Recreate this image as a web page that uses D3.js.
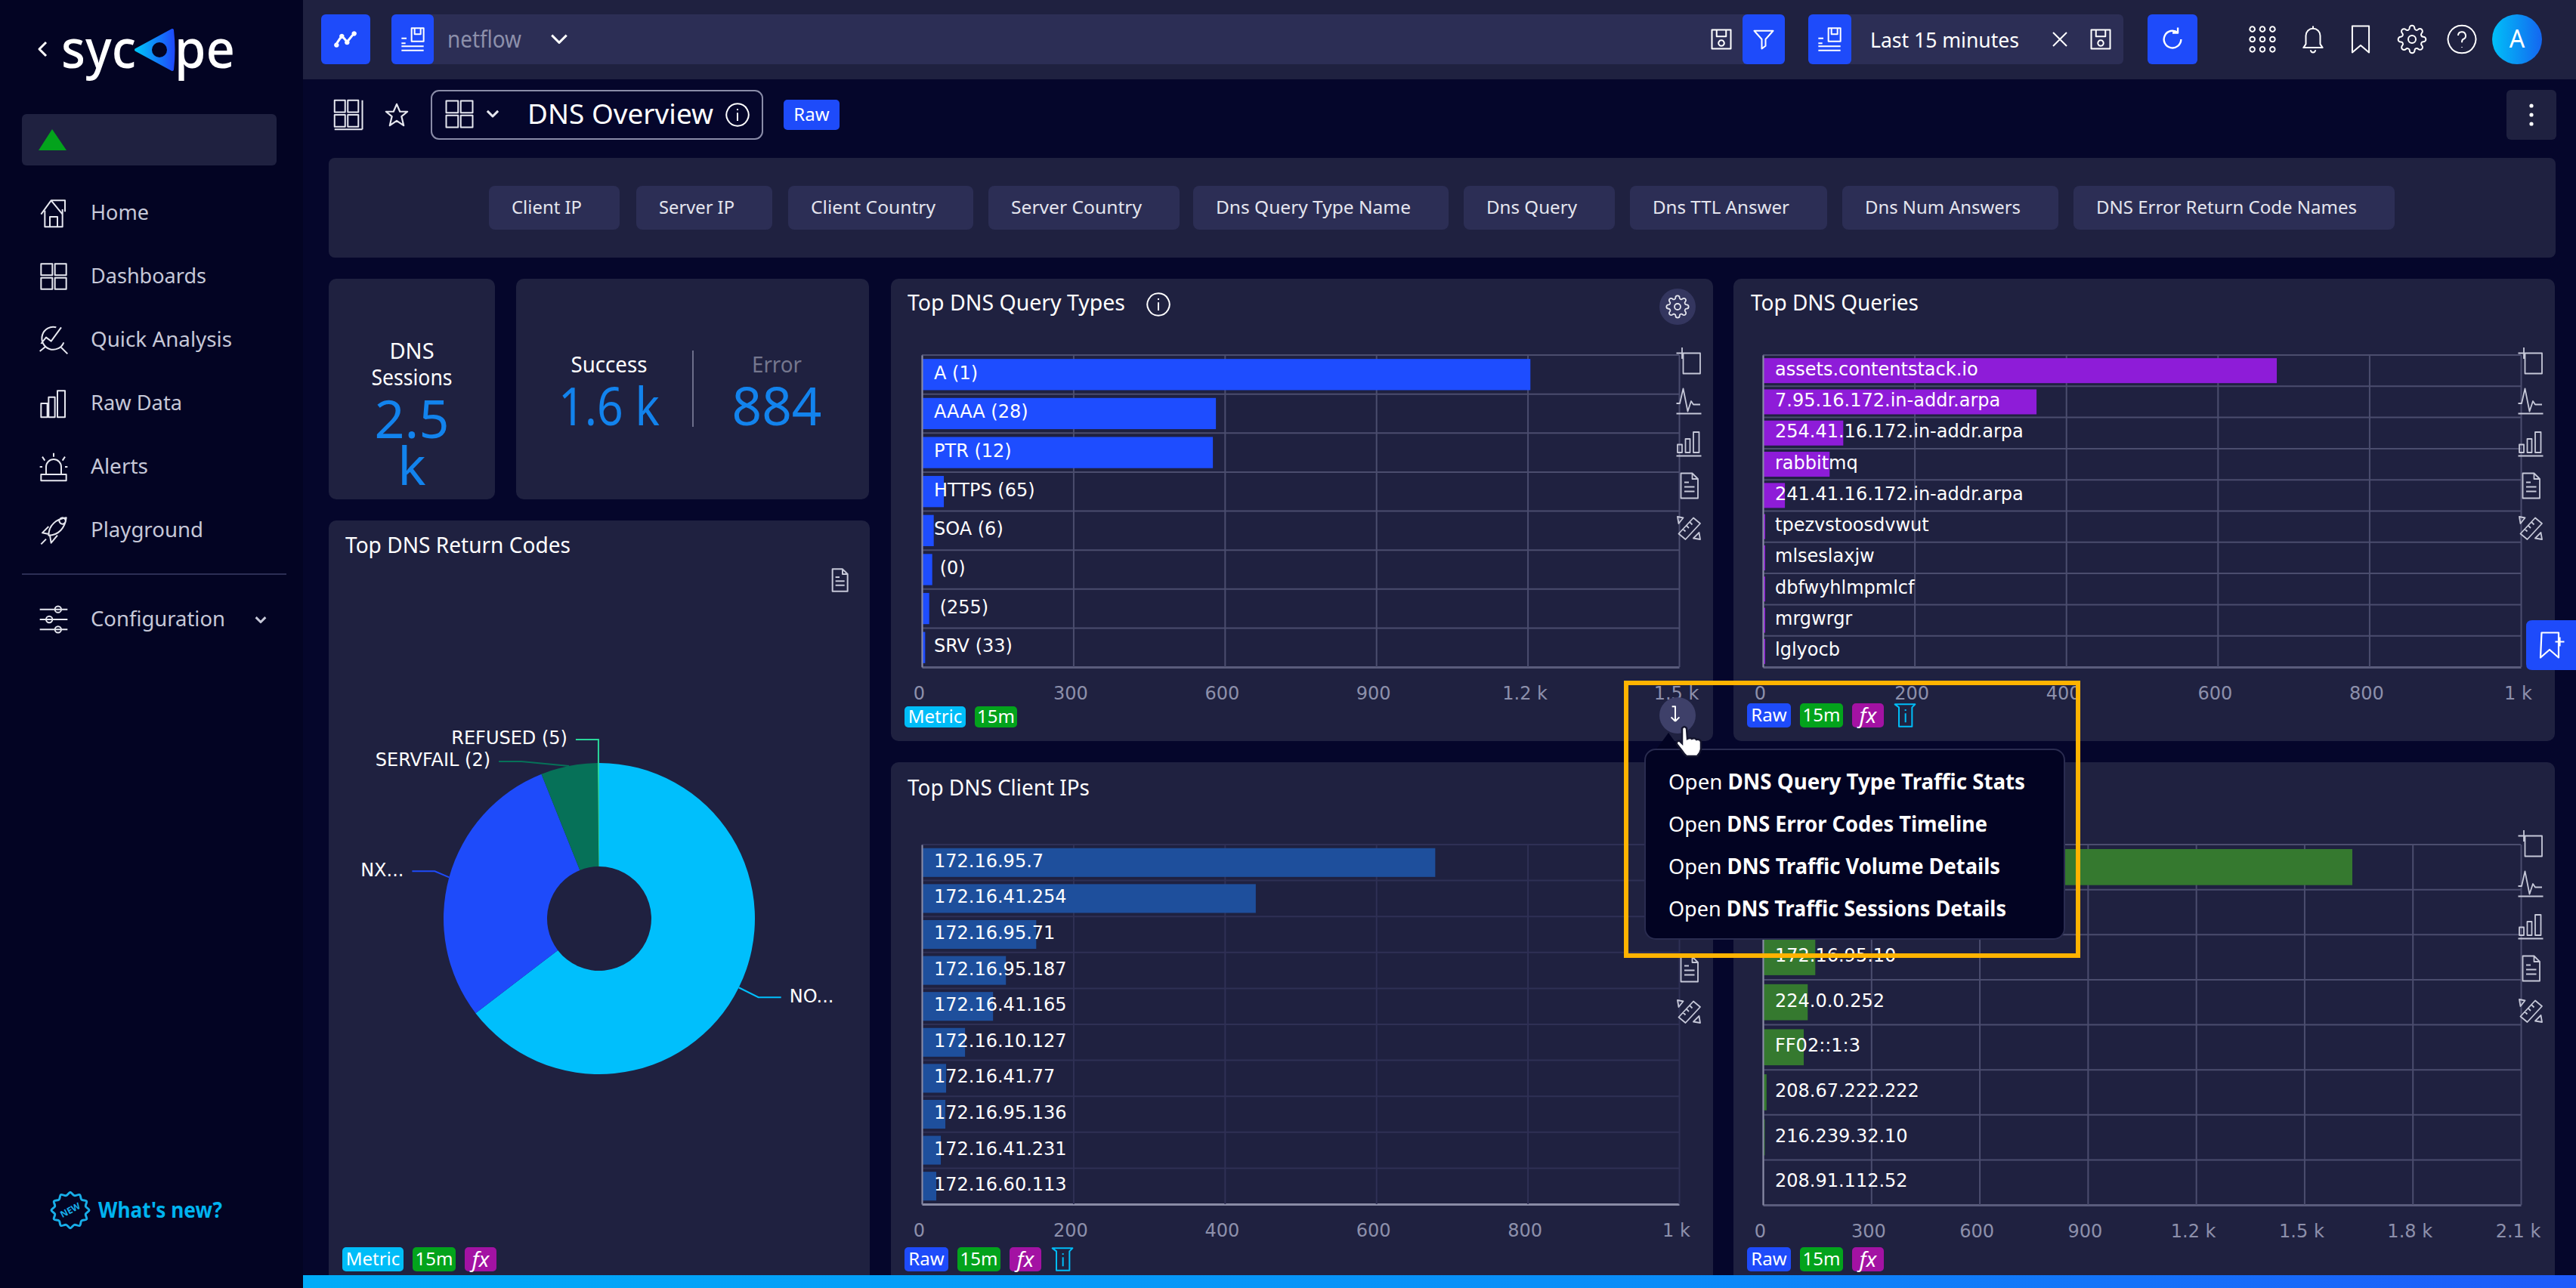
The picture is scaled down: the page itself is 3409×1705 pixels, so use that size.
<!DOCTYPE html>
<html>
<head>
<meta charset="utf-8">
<script src="https://cdn.jsdelivr.net/npm/d3@7"></script>
<style>
  html, body { margin: 0; background: #05062b; overflow: hidden; }
  svg { display: block; }
  text { font-family: "Noto Sans", sans-serif; fill: #fff; }
  .tick text, .mono { font-family: "DejaVu Sans", sans-serif; white-space: pre; }
</style>
</head>
<body>
<div id="chart"></div>
<script>
// chart values
const queryTypes = ["A (1)", "AAAA (28)", "PTR (12)", "HTTPS (65)", "SOA (6)", " (0)", " (255)", "SRV (33)"];
const queryTypeCounts = [1204, 581, 575, 42, 22, 19, 13, 5];
const queryTypeTicks = [0, 300, 600, 900, 1200, 1500];

const queries = ["assets.contentstack.io", "7.95.16.172.in-addr.arpa", "254.41.16.172.in-addr.arpa", "rabbitmq",
  "241.41.16.172.in-addr.arpa", "tpezvstoosdvwut", "mlseslaxjw", "dbfwyhlmpmlcf", "mrgwrgr", "lglyocb"];
const queryCounts = [677, 360, 105, 87, 28, 2, 2, 2, 2, 2];
const queryTicks = [0, 200, 400, 600, 800, 1000];

const clientIps = ["172.16.95.7", "172.16.41.254", "172.16.95.71", "172.16.95.187", "172.16.41.165",
  "172.16.10.127", "172.16.41.77", "172.16.95.136", "172.16.41.231", "172.16.60.113"];
const clientCounts = [677, 440, 150, 110, 93, 56, 31, 30, 24, 18];
const clientTicks = [0, 200, 400, 600, 800, 1000];

// first two server labels sit behind the popup, so they stay blank
const serverIps = ["", "", "172.16.95.10", "224.0.0.252", "FF02::1:3", "208.67.222.222", "216.239.32.10", "208.91.112.52"];
const serverCounts = [1631, 445, 143, 122, 111, 8, 3, 0];
const serverTicks = [0, 300, 600, 900, 1200, 1500, 1800, 2100];

const returnCodes = ["NO...", "NX...", "SERVFAIL (2)", "REFUSED (5)"];
const returnCounts = [1590, 722, 145, 4];

const menuItems = ["Home", "Dashboards", "Quick Analysis", "Raw Data", "Alerts", "Playground"];
const filterChips = ["Client IP", "Server IP", "Client Country", "Server Country", "Dns Query Type Name",
  "Dns Query", "Dns TTL Answer", "Dns Num Answers", "DNS Error Return Code Names"];
const popupLinks = ["DNS Query Type Traffic Stats", "DNS Error Codes Timeline", "DNS Traffic Volume Details", "DNS Traffic Sessions Details"];

const BLUE = "#1e4bfa", CYAN = "#00bdf8", GREEN = "#03a31c", MAGENTA = "#a312a3";
const PANEL = "#1f2140", FIELD = "#2c2e55";

const svg = d3.select("#chart").append("svg").attr("width", 3409).attr("height", 1705);

const defs = svg.append("defs");
const grad = defs.append("linearGradient").attr("id", "strip");
grad.append("stop").attr("offset", "0").attr("stop-color", "#00acf8");
grad.append("stop").attr("offset", "0.6").attr("stop-color", "#0a8cf8");
grad.append("stop").attr("offset", "1").attr("stop-color", "#1e5afa");
const av = defs.append("linearGradient").attr("id", "avatar");
av.append("stop").attr("offset", "0").attr("stop-color", "#00c0f8");
av.append("stop").attr("offset", "1").attr("stop-color", "#1466f0");
const lg = defs.append("linearGradient").attr("id", "logo");
lg.append("stop").attr("offset", "0").attr("stop-color", "#00c4f8");
lg.append("stop").attr("offset", "1").attr("stop-color", "#1e4bfa");

// small drawing helpers
function box(x, y, w, h, fill, r, parent) {
  return (parent || svg).append("rect").attr("x", x).attr("y", y).attr("width", w).attr("height", h)
    .attr("rx", r || 0).attr("fill", fill);
}
function label(x, y, str, size, opts) {
  opts = opts || {};
  const t = (opts.parent || svg).append("text").attr("x", x).attr("y", y).attr("dy", "0.35em")
    .attr("font-size", size).attr("text-anchor", opts.anchor || "start").text(str);
  if (opts.fill) t.style("fill", opts.fill);
  if (opts.weight) t.attr("font-weight", opts.weight);
  if (opts.cls) t.attr("class", opts.cls);
  if (opts.width) t.attr("textLength", opts.width).attr("lengthAdjust", "spacingAndGlyphs");
  return t;
}

const ICONS = {
  home: "M2 13 L10 2 H21 V11 M5 10 V23 H19 V9 M9 23 V15 H15 V23 M10 2 L19 13",
  grid4: "M2 2h9v9H2z M13 2h9v9h-9z M2 13h9v9H2z M13 13h9v9h-9z",
  analysis: "M20 14a9 9 0 1 1-6-12 M2 15l4-5 4 3 8-11 M18 18l5 5 M1 21l5-4",
  bars: "M2 23V12h5v11z M8 23V7h5v16z M15 23V2h6v21z",
  siren: "M6 18v-6a6 6 0 0 1 12 0v6 M2 18h20v5H2z M12 1v3 M3 4l2 3 M21 4l-2 3 M1 12h2 M21 12h2",
  rocket: "M8 16 C8 8 14 3 22 2 C21 10 16 16 8 16z M8 15 l-5-1 5-5 M9 16 l1 6 5-6 M6 19l-4 4 M19 7 a2.5 2.5 0 1 0 -.01 0",
  sliders: "M1 4h22 M1 12h22 M1 20h22 M13 4a2.5 2.5 0 1 0 5 0a2.5 2.5 0 1 0-5 0 M6 12a2.5 2.5 0 1 0 5 0a2.5 2.5 0 1 0-5 0 M13 20a2.5 2.5 0 1 0 5 0a2.5 2.5 0 1 0-5 0",
  doc: "M5 1h10l5 5v17H5z M15 1v5h5 M8 9h4 M8 13h9 M8 17h9",
  ruler: "M3 17 L16 3 L22 8 L9 22z M7 13l2 2 M10 10l2 2 M13 7l2 2 M2 2l5 1-4 5z M22 22l-1-6-5 5z",
  addSquare: "M7 5h15v18H7z M1 5h10 M6 0v10",
  pulse: "M1 14h3l3-13 4 20 3-9 2 3h6 M1 23h22",
  barsLine: "M2 20V13h4v7z M9 20V8h4v12z M16 20V2h5v18z M1 23h22",
  gear: "M19.4 15a1.65 1.65 0 0 0 .33 1.82l.06.06a2 2 0 0 1 0 2.83 2 2 0 0 1-2.83 0l-.06-.06a1.65 1.65 0 0 0-1.82-.33 1.65 1.65 0 0 0-1 1.51V21a2 2 0 0 1-2 2 2 2 0 0 1-2-2v-.09A1.65 1.65 0 0 0 9 19.4a1.65 1.65 0 0 0-1.82.33l-.06.06a2 2 0 0 1-2.83 0 2 2 0 0 1 0-2.83l.06-.06a1.65 1.65 0 0 0 .33-1.82 1.65 1.65 0 0 0-1.51-1H3a2 2 0 0 1-2-2 2 2 0 0 1 2-2h.09A1.65 1.65 0 0 0 4.6 9a1.65 1.65 0 0 0-.33-1.82l-.06-.06a2 2 0 0 1 0-2.83 2 2 0 0 1 2.83 0l.06.06a1.65 1.65 0 0 0 1.82.33H9a1.65 1.65 0 0 0 1-1.51V3a2 2 0 0 1 2-2 2 2 0 0 1 2 2v.09a1.65 1.65 0 0 0 1 1.51 1.65 1.65 0 0 0 1.82-.33l.06-.06a2 2 0 0 1 2.83 0 2 2 0 0 1 0 2.83l-.06.06a1.65 1.65 0 0 0-.33 1.82V9a1.65 1.65 0 0 0 1.51 1H21a2 2 0 0 1 2 2 2 2 0 0 1-2 2h-.09a1.65 1.65 0 0 0-1.51 1z M12 15a3 3 0 1 0 0-6 3 3 0 0 0 0 6z",
  bell: "M18 9a6 6 0 0 0-12 0v7l-2 3h16l-2-3z M10 21a2 2 0 0 0 4 0 M12 1v2",
  bookmark: "M5 1h14v22l-7-6-7 6z",
  help: "M12 1a11 11 0 1 0 .01 0 M9 9a3 3 0 1 1 4 3c-1 .5-1 1-1 2.5 M12 18v.5",
  info: "M12 1a11 11 0 1 0 .01 0 M12 10v8 M12 6v1.5",
  dots9: "M4 2a2 2 0 1 0 .01 0 M12 2a2 2 0 1 0 .01 0 M20 2a2 2 0 1 0 .01 0 M4 10a2 2 0 1 0 .01 0 M12 10a2 2 0 1 0 .01 0 M20 10a2 2 0 1 0 .01 0 M4 18a2 2 0 1 0 .01 0 M12 18a2 2 0 1 0 .01 0 M20 18a2 2 0 1 0 .01 0",
  floppy: "M2 2h20v20H2z M7 2v7h10V2 M12 13a3 3 0 1 0 .01 0",
  funnel: "M2 3h20l-8 9v7l-4 3V12z",
  cross: "M3 3l18 18 M21 3L3 21",
  refresh: "M20 12a8 8 0 1 1-3-6.2 M17 1v5h-5",
  savedList: "M1 11h5 M1 16h4 M1 19h22 M1 23h22 M11 1h12v13H11z M14 1v6h6V1",
  trend: "M2 17 L8 8 L14 15 L22 5 M2 17a1.5 1.5 0 1 0 .01 0 M8 7a1.5 1.5 0 1 0 .01 0 M14 14a1.5 1.5 0 1 0 .01 0 M22 4a1.5 1.5 0 1 0 .01 0",
  star: "M12 2l3 7h7l-5.5 4.5L18.5 22 12 17.5 5.5 22l2-8.5L2 9h7z",
  stackGrid: "M1 1h8v9H1z M11 1h8v9h-8z M1 12h8v9H1z M11 12h8v9h-8z M22 1v22 M1 23h21",
  bookmarkPlus: "M3 1h15v22l-8-7-8 7z M15 9h8 M19 5v8",
  hookArrow: "M8 3h4v18 M12 21l-5-5 M12 21l5-5",
  chevDown: "M3 8l9 9 9-9",
  chevLeft: "M16 3L7 12l9 9",
  flagInfo: "M2 1h20l-3 3v19H6V4z M12.5 10v9 M12.5 6v1.5"
};
function icon(name, cx, cy, size, color, sw) {
  return svg.append("path").attr("d", ICONS[name])
    .attr("transform", `translate(${cx - size / 2},${cy - size / 2}) scale(${size / 24})`)
    .attr("fill", "none").attr("stroke", color || "#fff")
    .attr("stroke-width", (sw || 2.2) * 24 / size).attr("stroke-linejoin", "round");
}
function tag(x, y, w, h, str, fill, italic) {
  box(x, y, w, h, fill, 5);
  const t = label(x + w / 2, y + h / 2, str, italic ? 28 : 24, { anchor: "middle" });
  if (italic) t.attr("font-style", "italic");
}

function fmtCount(v) { return v >= 1000 ? (v / 1000) + " k" : String(v); }

// bar chart: one function for the four panels
function barChart(o) {
  const w = o.x1 - o.x0, h = o.y1 - o.y0;
  const x = d3.scaleLinear().domain([0, d3.max(o.ticks)]).range([0, w]);
  const y = d3.scaleBand().domain(d3.range(o.cats.length)).range([0, h]).paddingInner(0.2).paddingOuter(0.1);
  const g = svg.append("g").attr("transform", `translate(${o.x0},${o.y0})`);

  // row separators
  g.selectAll(".row").data(d3.range(o.cats.length)).enter().append("line")
    .attr("x1", 0).attr("x2", w)
    .attr("y1", d => d * y.step()).attr("y2", d => d * y.step())
    .attr("stroke", o.grid).attr("stroke-width", 2);

  const xAxis = g.append("g").attr("transform", `translate(0,${h})`)
    .call(d3.axisBottom(x).tickValues(o.ticks).tickFormat(fmtCount).tickSize(-h).tickSizeOuter(0).tickPadding(26));
  xAxis.selectAll("line").attr("stroke", o.grid).attr("stroke-width", 2);
  xAxis.select(".domain").attr("stroke", o.base).attr("stroke-width", 3);
  xAxis.selectAll("text").attr("font-size", 24).attr("dx", -4).style("fill", "#8d90ab");

  g.selectAll(".bar").data(o.vals).enter().append("rect").attr("class", "bar")
    .attr("x", 1).attr("y", (d, i) => y(i))
    .attr("width", d => x(d)).attr("height", y.bandwidth())
    .attr("fill", o.color);

  const yAxis = g.append("g")
    .call(d3.axisRight(y).tickSize(0).tickPadding(16).tickFormat(i => o.cats[i]));
  yAxis.select(".domain").attr("stroke", "#8a8ca6").attr("stroke-width", 2);
  yAxis.selectAll("text").attr("font-size", 24).attr("dy", "0.25em").style("fill", "#fff");
}

// ---- page frame ----
box(0, 0, 3409, 1705, "#05062b");
box(0, 0, 401, 1705, "#030423");
box(401, 0, 3008, 105, PANEL);

// sidebar
icon("chevLeft", 57, 65, 24, "#fff", 3);
label(81, 65, "syc", 70, { weight: 500, width: 99 });
svg.append("path").attr("d", "M180 66 L228 40 Q231 66 228 92 Z").attr("fill", "url(#logo)")
  .attr("stroke", "url(#logo)").attr("stroke-width", 4).attr("stroke-linejoin", "round");
svg.append("circle").attr("cx", 211).attr("cy", 66).attr("r", 10).attr("fill", "#030423");
label(231, 65, "pe", 70, { weight: 500, width: 80 });

box(29, 151, 337, 68, PANEL, 6);
svg.append("path").attr("d", d3.line()([[51, 199], [69, 171], [88, 199]]) + "Z").attr("fill", GREEN);

const menuIcons = ["home", "grid4", "analysis", "bars", "siren", "rocket"];
const menuWidths = [77, 153, 187, 121, 76, 149];
menuItems.forEach((m, i) => {
  const yy = 282 + i * 84;
  icon(menuIcons[i], 71, yy, 40, "#e6e7ef", 2);
  label(120, yy, m, 27, { fill: "#c6c8d8", width: menuWidths[i] });
});
svg.append("line").attr("x1", 29).attr("x2", 379).attr("y1", 760).attr("y2", 760).attr("stroke", "#2c2e55").attr("stroke-width", 2);
icon("sliders", 71, 820, 40, "#e6e7ef", 2);
label(120, 820, "Configuration", 27, { fill: "#c6c8d8", width: 178 });
icon("chevDown", 345, 820, 17, "#c6c8d8", 3);

const burst = d3.lineRadial().curve(d3.curveCatmullRomClosed)
  .angle(d => d * Math.PI / 12).radius(d => d % 2 ? 21 : 25);
svg.append("path").attr("d", burst(d3.range(24))).attr("transform", "translate(93,1602) scale(1,.95)")
  .attr("fill", "none").attr("stroke", "#18aee8").attr("stroke-width", 3);
label(93, 1602, "NEW", 12, { anchor: "middle", fill: "#18aee8", weight: 700 }).attr("transform", "rotate(-28 93 1602)");
label(130, 1602, "What's new?", 28, { fill: "#00b4f0", weight: 700, width: 164 });

// top bar
box(425, 19, 65, 66, BLUE, 6);
icon("trend", 457, 52, 28, "#fff", 3);
box(518, 19, 1844, 66, FIELD, 6);
box(518, 19, 56, 66, BLUE, 6);
icon("savedList", 546, 52, 32, "#fff", 2);
label(592, 52, "netflow", 30, { fill: "#8d90ab", width: 98 });
icon("chevDown", 740, 51, 26, "#fff", 3);
icon("floppy", 2278, 52, 30, "#fff", 2);
box(2306, 19, 56, 66, BLUE, 6);
icon("funnel", 2334, 52, 30, "#fff", 2);
box(2393, 19, 417, 66, FIELD, 6);
box(2393, 19, 57, 66, BLUE, 6);
icon("savedList", 2421, 52, 32, "#fff", 2);
label(2475, 53, "Last 15 minutes", 28, { width: 197 });
icon("cross", 2726, 52, 24, "#fff", 2);
icon("floppy", 2780, 52, 30, "#fff", 2);
box(2842, 19, 66, 66, BLUE, 6);
icon("refresh", 2875, 52, 34, "#fff", 2.4);
icon("dots9", 2994, 52, 40, "#fff", 2);
icon("bell", 3061, 52, 38, "#fff", 2);
icon("bookmark", 3124, 52, 38, "#fff", 2);
icon("gear", 3192, 52, 40, "#fff", 2);
icon("help", 3258, 52, 40, "#fff", 2);
svg.append("circle").attr("cx", 3331).attr("cy", 52).attr("r", 33).attr("fill", "url(#avatar)");
label(3331, 52, "A", 32, { anchor: "middle" });

// dashboard header
icon("stackGrid", 462, 152, 42, "#e6e7ef", 2);
icon("star", 525, 152, 34, "#e6e7ef", 2.2);
box(571, 120, 438, 64, "none", 10).attr("stroke", "#8a8ca8").attr("stroke-width", 2);
icon("grid4", 608, 151, 42, "#e6e7ef", 2);
icon("chevDown", 652, 150, 19, "#e6e7ef", 3);
label(698, 151, "DNS Overview", 36, { width: 246 });
icon("info", 976, 152, 32, "#fff", 2);
tag(1037, 132, 74, 40, "Raw", BLUE);
box(3317, 119, 66, 66, PANEL, 6);
svg.selectAll(".kebab").data([-12, 0, 12]).enter().append("circle")
  .attr("cx", 3350).attr("cy", d => 152 + d).attr("r", 2.6).attr("fill", "#fff");

// filter chips: the text sits left of centre, 30px from the chip edge
box(435, 209, 2947, 132, PANEL, 8);
const chipEdges = [[647, 820], [842, 1022], [1043, 1288], [1308, 1561], [1579, 1917], [1937, 2137], [2157, 2418], [2438, 2724], [2744, 3169]];
filterChips.forEach((c, i) => {
  const [a, b] = chipEdges[i];
  box(a, 246, b - a, 58, FIELD, 8);
  label(a + 30, 275, c, 24, { fill: "#e4e5ee", width: b - a - 80 });
});

// ---- panels ----
box(435, 369, 220, 292, PANEL, 10);
label(545, 465, "DNS", 29, { anchor: "middle" });
label(545, 500, "Sessions", 29, { anchor: "middle", width: 107 });
label(545, 555, "2.5", 70, { anchor: "middle", fill: "#1283ed" });
label(545, 617, "k", 70, { anchor: "middle", fill: "#1283ed" });

box(683, 369, 467, 292, PANEL, 10);
label(806, 483, "Success", 29, { anchor: "middle", width: 101 });
label(806, 538, "1.6 k", 70, { anchor: "middle", fill: "#1283ed", width: 134 });
svg.append("line").attr("x1", 917).attr("x2", 917).attr("y1", 464).attr("y2", 565).attr("stroke", "#6c6e8a").attr("stroke-width", 2);
label(1028, 483, "Error", 29, { anchor: "middle", fill: "#75778e", width: 66 });
label(1028, 538, "884", 70, { anchor: "middle", fill: "#1283ed", width: 119 });

box(435, 689, 716, 1030, PANEL, 10);
box(1179, 369, 1088, 612, PANEL, 10);
box(2294, 369, 1087, 612, PANEL, 10);
box(1179, 1009, 1088, 710, PANEL, 10);
box(2294, 1009, 1087, 710, PANEL, 10);

label(457, 722, "Top DNS Return Codes", 29, { width: 298 });
label(1201, 401, "Top DNS Query Types", 29, { width: 288 });
label(2317, 401, "Top DNS Queries", 29, { width: 222 });
label(1201, 1043, "Top DNS Client IPs", 29, { width: 241 });

icon("info", 1533, 403, 32, "#fff", 2);
svg.append("circle").attr("cx", 2220).attr("cy", 406).attr("r", 24).attr("fill", "#34365f");
icon("gear", 2220, 406, 32, "#e6e7ef", 1.8);
icon("doc", 1111, 768, 32, "#c6c8d8", 2);

barChart({ x0: 1220, x1: 2222, y0: 470, y1: 883, cats: queryTypes, vals: queryTypeCounts, ticks: queryTypeTicks,
  color: "#1e4dff", grid: "#4b4d6e", base: "#5a5c7c" });
barChart({ x0: 2333, x1: 3336, y0: 470, y1: 883, cats: queries, vals: queryCounts, ticks: queryTicks,
  color: "#8e1cd8", grid: "#4b4d6e", base: "#5a5c7c" });
barChart({ x0: 1220, x1: 2222, y0: 1118, y1: 1594, cats: clientIps, vals: clientCounts, ticks: clientTicks,
  color: "#1e4f9c", grid: "#2f3055", base: "#8a8ca6" });
barChart({ x0: 2333, x1: 3336, y0: 1118, y1: 1595, cats: serverIps, vals: serverCounts, ticks: serverTicks,
  color: "#35792f", grid: "#4b4d6e", base: "#5a5c7c" });

// the row of tool icons next to each bar chart
const toolIcons = ["addSquare", "pulse", "barsLine", "doc", "ruler"];
const toolSteps = [0, 53, 109, 165, 221];
[[2235, 478], [3349, 478], [3349, 1117]].forEach(([px, py]) => {
  toolIcons.forEach((n, i) => icon(n, px, py + toolSteps[i], 36, "#c6c8d8", 1.8));
});
icon("doc", 2235, 1283, 36, "#c6c8d8", 1.8);
icon("ruler", 2235, 1339, 36, "#c6c8d8", 1.8);

// tags under the charts
tag(1197, 935, 81, 28, "Metric", CYAN);
tag(1290, 935, 56, 28, "15m", GREEN);
tag(2312, 931, 58, 32, "Raw", BLUE);
tag(2382, 931, 57, 32, "15m", GREEN);
tag(2451, 931, 42, 32, "fx", MAGENTA, true);
icon("flagInfo", 2521, 947, 32, CYAN, 2);
tag(1197, 1651, 58, 32, "Raw", BLUE);
tag(1267, 1651, 57, 32, "15m", GREEN);
tag(1336, 1651, 42, 32, "fx", MAGENTA, true);
icon("flagInfo", 1406, 1667, 32, CYAN, 2);
tag(2312, 1651, 58, 32, "Raw", BLUE);
tag(2382, 1651, 57, 32, "15m", GREEN);
tag(2451, 1651, 42, 32, "fx", MAGENTA, true);
tag(453, 1651, 81, 32, "Metric", CYAN);
tag(546, 1651, 57, 32, "15m", GREEN);
tag(615, 1651, 42, 32, "fx", MAGENTA, true);

// ---- donut ----
const donutColors = ["#00bffc", BLUE, "#067158", "#2ad69a"];
const leaderOffsets = [[26, 13], [-19, -8], [-63, -6], [0, -31]];
const cx = 793, cy = 1216, outer = 206, inner = 69;
const pie = d3.pie().sort(null)(returnCounts);
const arc = d3.arc().innerRadius(inner).outerRadius(outer);
const donut = svg.append("g").attr("transform", `translate(${cx},${cy})`);
donut.selectAll("path.slice").data(pie).enter().append("path").attr("class", "slice")
  .attr("d", arc).attr("fill", (d, i) => donutColors[i]);
pie.forEach((d, i) => {
  const mid = (d.startAngle + d.endAngle) / 2;
  const sx = Math.sin(mid) * outer, sy = -Math.cos(mid) * outer;
  const ex = sx + leaderOffsets[i][0], ey = sy + leaderOffsets[i][1];
  const dir = sx > 0 ? 1 : -1;
  donut.append("path").attr("d", d3.line()([[sx, sy], [ex, ey], [ex + dir * 30, ey]]))
    .attr("fill", "none").attr("stroke", donutColors[i]).attr("stroke-width", 2);
  label(ex + dir * 41, ey - 2, returnCodes[i], 24, { parent: donut, anchor: dir > 0 ? "start" : "end", cls: "mono" });
});

// ---- bottom strip ----
box(401, 1688, 3008, 17, "url(#strip)");

// side tab
svg.append("path").attr("d", "M3409 821 H3351 Q3343 821 3343 829 V879 Q3343 887 3351 887 H3409 Z").attr("fill", BLUE);
icon("bookmarkPlus", 3377, 854, 36, "#fff", 2.2);

// ---- popup opened from the query types panel ----
svg.append("circle").attr("cx", 2220).attr("cy", 947).attr("r", 24).attr("fill", "#3e4069");
icon("hookArrow", 2217, 945, 26, "#fff", 2);
svg.append("path").attr("d", "M2192 992 L2208 970 L2224 992 Z").attr("fill", "#020322");
box(2177, 992, 555, 251, "#020322", 14).attr("stroke", "#2a2c50").attr("stroke-width", 2);
const popupWidths = [472, 422, 439, 447];
popupLinks.forEach((p, i) => {
  const t = label(2208, 1035 + i * 56, "Open ", 28);
  t.append("tspan").attr("font-weight", 700).text(p);
  t.attr("textLength", popupWidths[i]).attr("lengthAdjust", "spacingAndGlyphs");
});
// hand cursor
svg.append("path")
  .attr("d", "M2226 964 q3 -4 6 0 l1 14 q4 -2 6 0 q4 -2 6 1 q5 -1 6 3 l0 10 q-1 5 -5 9 l-14 0 q-3 -2 -6 -7 l-7 -9 q-1 -5 4 -4 l3 3 z")
  .attr("fill", "#fff").attr("stroke", "#15162e").attr("stroke-width", 2.5);

// highlight frame
box(2152, 904, 598, 361, "none").attr("stroke", "#ffb300").attr("stroke-width", 6);
</script>
</body>
</html>
